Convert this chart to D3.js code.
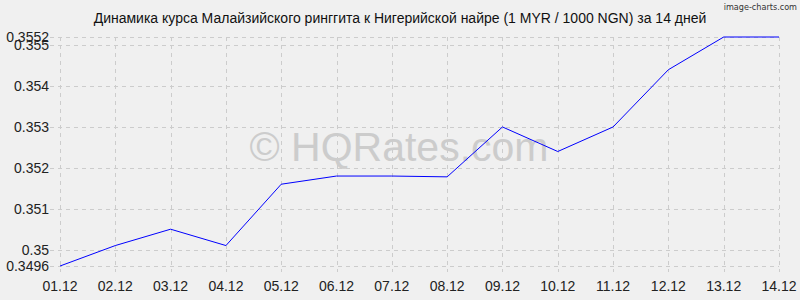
<!DOCTYPE html>
<html>
<head>
<meta charset="utf-8">
<script src="https://cdn.jsdelivr.net/npm/d3@7.9.0/dist/d3.min.js"></script>
<style>
  html, body { margin: 0; padding: 0; background: #f0f0f0; }
  svg { display: block; font-family: "Liberation Sans", Arial, sans-serif; }
</style>
</head>
<body>
<svg width="800" height="300"></svg>
<script>
// -------------------------
// Data
// -------------------------
const dates = ['01.12', '02.12', '03.12', '04.12', '05.12', '06.12', '07.12',
               '08.12', '09.12', '10.12', '11.12', '12.12', '13.12', '14.12'];
const rates = [0.3496, 0.3501, 0.3505, 0.3501, 0.3516, 0.3518, 0.3518,
               0.35178, 0.3530, 0.3524, 0.3530, 0.3544, 0.3552, 0.3552];
const yTicks = [0.3496, 0.35, 0.351, 0.352, 0.353, 0.354, 0.355, 0.3552];
const yTickLabels = ['0.3496', '0.35', '0.351', '0.352', '0.353', '0.354', '0.355', '0.3552'];

const title = 'Динамика курса Малайзийского ринггита к Нигерийской найре (1 MYR / 1000 NGN) за 14 дней';

// -------------------------
// Scales
// -------------------------
const margin = { left: 60, right: 21, top: 37, bottom: 34 };
const W = 800, H = 300;

const x = d3.scalePoint().domain(dates).range([margin.left, W - margin.right]);
const y = d3.scaleLinear().domain([0.3496, 0.3552]).range([H - margin.bottom, margin.top]);

const svg = d3.select('svg');

// watermark
svg.append('text')
  .attr('x', 399).attr('y', 161)
  .attr('text-anchor', 'middle')
  .attr('font-size', 41)
  .attr('fill', '#cccccc')
  .text('© HQRates.com');

// grid
const grid = svg.append('g')
  .attr('stroke', '#cccccc')
  .attr('stroke-dasharray', '4,4')
  .attr('shape-rendering', 'crispEdges');

grid.selectAll('line.h')
  .data(yTicks)
  .join('line')
  .attr('class', 'h')
  .attr('x1', margin.left - 10)
  .attr('x2', W - margin.right)
  .attr('y1', d => Math.round(y(d)) + 0.5)
  .attr('y2', d => Math.round(y(d)) + 0.5);

grid.selectAll('line.v')
  .data(dates)
  .join('line')
  .attr('class', 'v')
  .attr('x1', d => Math.round(x(d)) + 0.5)
  .attr('x2', d => Math.round(x(d)) + 0.5)
  .attr('y1', margin.top)
  .attr('y2', H - margin.bottom + 6);

// y labels
svg.append('g')
  .selectAll('text')
  .data(yTicks)
  .join('text')
  .attr('x', 49)
  .attr('y', d => y(d) + 5)
  .attr('text-anchor', 'end')
  .attr('font-size', 14)
  .attr('fill', '#222')
  .text((d, i) => yTickLabels[i]);

// x labels
svg.append('g')
  .selectAll('text')
  .data(dates)
  .join('text')
  .attr('x', d => x(d))
  .attr('y', 291)
  .attr('text-anchor', 'middle')
  .attr('font-size', 14)
  .attr('fill', '#222')
  .text(d => d);

// line
const line = d3.line()
  .x((d, i) => x(dates[i]))
  .y(d => y(d));

svg.append('path')
  .datum(rates)
  .attr('d', line)
  .attr('fill', 'none')
  .attr('stroke', '#0000ff')
  .attr('stroke-width', 1);

// title
svg.append('text')
  .attr('x', 400).attr('y', 23)
  .attr('text-anchor', 'middle')
  .attr('font-size', 14)
  .attr('fill', '#111')
  .text(title);

// branding
svg.append('text')
  .attr('x', 797).attr('y', 10)
  .attr('text-anchor', 'end')
  .attr('font-size', 9)
  .attr('font-family', '"DejaVu Sans Condensed", "Liberation Sans Narrow", sans-serif')
  .attr('fill', '#333')
  .text('image-charts.com');
</script>
</body>
</html>
